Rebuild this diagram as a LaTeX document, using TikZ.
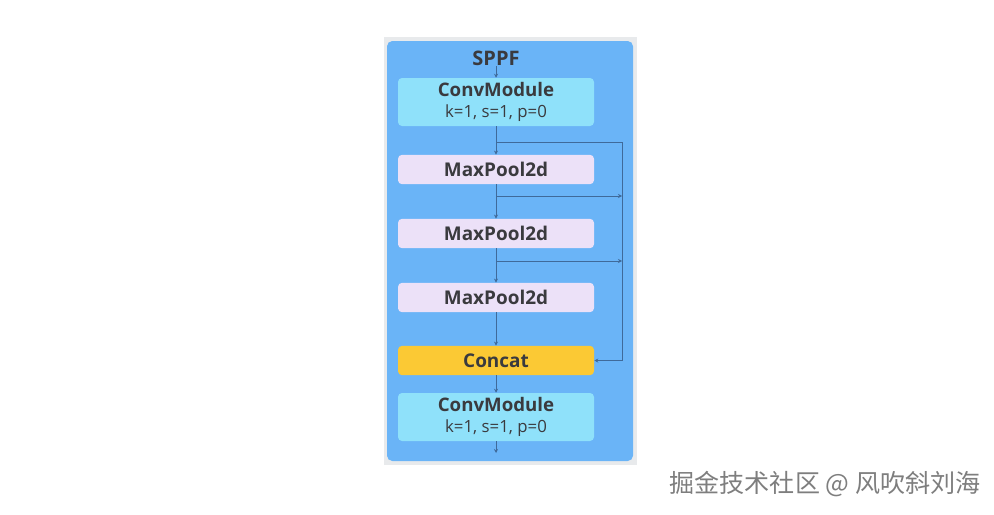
\documentclass[tikz,border=0pt]{standalone}
\usepackage{fontspec}
\setmainfont{Open Sans}
\newfontfamily\cjk{Noto Sans CJK SC}
\usetikzlibrary{arrows.meta}
\definecolor{frame}{HTML}{E8EAEC}
\definecolor{panel}{HTML}{6AB4F7}
\definecolor{convfill}{HTML}{8FE1FA}
\definecolor{poolfill}{HTML}{ECE1F8}
\definecolor{catfill}{HTML}{FBC934}
\definecolor{txt}{HTML}{3A3A3E}
\definecolor{wire}{HTML}{3F6A9A}
\definecolor{mark}{HTML}{7E7E7E}
\tikzset{
  blk/.style={draw=none, rounded corners=3pt, minimum width=147pt, inner sep=0pt, text=txt, align=center},
  convbox/.style={blk, fill=convfill, minimum height=36pt, font=\fontsize{12.6}{15.5}\selectfont},
  poolbox/.style={blk, fill=poolfill, minimum height=22pt, font=\fontsize{14.2}{16}\selectfont\bfseries},
  catbox/.style={blk, fill=catfill, minimum height=22pt, font=\fontsize{14.2}{16}\selectfont\bfseries},
  wirearrow/.style={draw=wire, line width=0.5pt, -{Stealth[length=3pt,width=3pt]}},
  wireline/.style={draw=wire, line width=0.5pt}
}
\newcommand{\convtext}{{\fontsize{14}{15.5}\selectfont\bfseries ConvModule}\\k=1, s=1, p=0}
\begin{document}
\begin{tikzpicture}[x=0.75pt,y=-0.75pt]
\useasboundingbox (0,0) rectangle (994,514);
\fill[frame] (384,37) rectangle (637,465);
\fill[panel, rounded corners=4pt] (387,41) rectangle (633,461);
\node[text=txt, font=\fontsize{15}{17}\selectfont\bfseries] (title) at (496,58) {SPPF};
\coordinate (tin) at (496,66);
\node[convbox] (c1) at (496,102) {\convtext};
\node[poolbox] (m1) at (496,169.5) {MaxPool2d};
\node[poolbox] (m2) at (496,233.5) {MaxPool2d};
\node[poolbox] (m3) at (496,297.5) {MaxPool2d};
\node[catbox] (cat) at (496,360.5) {Concat};
\node[convbox] (c2) at (496,417) {\convtext};
\coordinate (bout) at (496,453);
\coordinate (s0) at (496,142);
\coordinate (s1) at (496,196);
\coordinate (s2) at (496,261);
\coordinate (r0) at (622,142);
\coordinate (r1) at (622,196);
\coordinate (r2) at (622,261);
\coordinate (r3) at (622,360.5);
\draw[wirearrow] (tin) -- (c1);
\draw[wirearrow] (c1) -- (m1);
\draw[wirearrow] (m1) -- (m2);
\draw[wirearrow] (m2) -- (m3);
\draw[wirearrow] (m3) -- (cat);
\draw[wirearrow] (cat) -- (c2);
\draw[wirearrow] (c2) -- (bout);
\draw[wireline] (s0) -- (r0) -- (r3);
\draw[wirearrow] (r3) -- (cat.east);
\draw[wirearrow] (s1) -- (r1);
\draw[wirearrow] (s2) -- (r2);
\node[text=mark, font=\cjk\fontsize{18.8}{22}\selectfont, anchor=west] (wm) at (665,484) {掘金技术社区 @ 风吹斜刘海};
\end{tikzpicture}
\end{document}
